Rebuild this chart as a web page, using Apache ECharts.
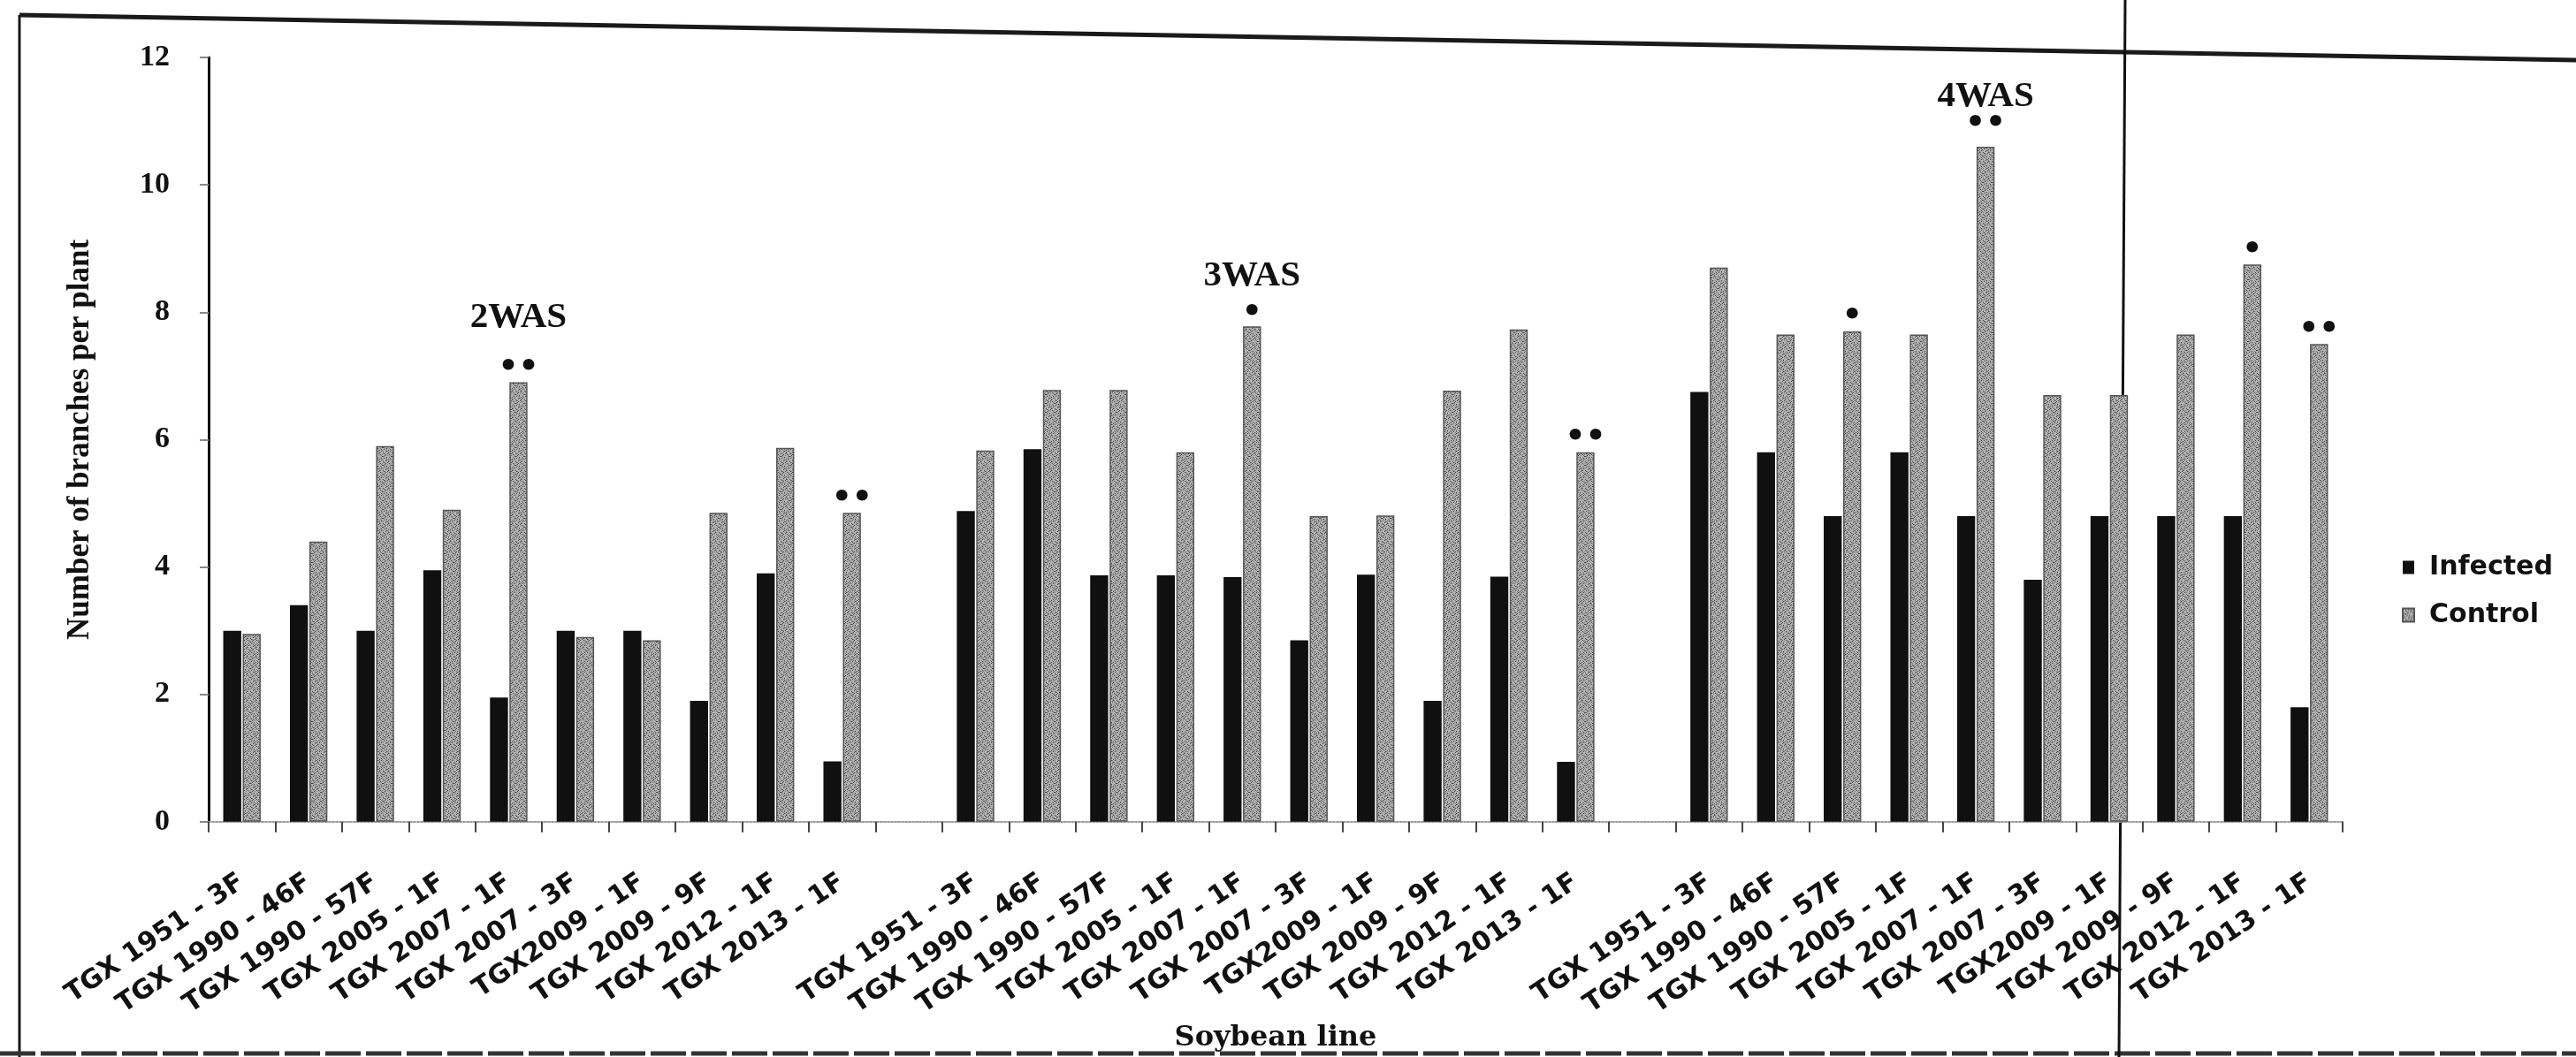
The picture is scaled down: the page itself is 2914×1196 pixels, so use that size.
<!DOCTYPE html>
<html>
<head>
<meta charset="utf-8">
<title>Number of branches per plant</title>
<script src="https://cdn.jsdelivr.net/npm/echarts/dist/echarts.min.js"></script>
<style>
  html, body { margin: 0; padding: 0; background: #ffffff; }
  #chart { width: 2914px; height: 1196px; }
</style>
</head>
<body>
<div id="chart"></div>
<script>
// Soybean lines, measured at three sampling weeks (weeks after sowing)
const lines = ['TGX 1951 - 3F', 'TGX 1990 - 46F', 'TGX 1990 - 57F', 'TGX 2005 - 1F', 'TGX 2007 - 1F',
               'TGX 2007 - 3F', 'TGX2009 - 1F', 'TGX 2009 - 9F', 'TGX 2012 - 1F', 'TGX 2013 - 1F'];
const weeks = ['2WAS', '3WAS', '4WAS'];

// Mean number of branches per plant
const infected2WAS = [3.0, 3.4, 3.0, 3.95, 1.95, 3.0, 3.0, 1.9, 3.9, 0.95];
const control2WAS  = [2.95, 4.4, 5.9, 4.9, 6.9, 2.9, 2.85, 4.85, 5.87, 4.85];
const infected3WAS = [4.88, 5.85, 3.87, 3.87, 3.84, 2.85, 3.88, 1.9, 3.85, 0.94];
const control3WAS  = [5.83, 6.78, 6.78, 5.8, 7.78, 4.8, 4.81, 6.77, 7.73, 5.8];
const infected4WAS = [6.75, 5.8, 4.8, 5.8, 4.8, 3.8, 4.8, 4.8, 4.8, 1.8];
const control4WAS  = [8.7, 7.65, 7.7, 7.65, 10.6, 6.7, 6.7, 7.65, 8.75, 7.5];

// Significance marks above the control bars (* p<0.05, ** p<0.01)
const signif2WAS = ['', '', '', '', '**', '', '', '', '', '**'];
const signif3WAS = ['', '', '', '', '*', '', '', '', '', '**'];
const signif4WAS = ['', '', '*', '', '**', '', '', '', '*', '**'];

// The week heading is written above this line's control bar
const headingLine = 'TGX 2007 - 1F';

const yTickStep = 2;
const yMax = 12;

const infectedByWeek = [infected2WAS, infected3WAS, infected4WAS];
const controlByWeek = [control2WAS, control3WAS, control4WAS];
const signifByWeek = [signif2WAS, signif3WAS, signif4WAS];

// per-week spacing of the heading above its bar
const headingStyle = [
  { distance: 6, lineHeight: 94 },
  { distance: 5, lineHeight: 64 },
  { distance: 15, lineHeight: 42 }
];

const INK = '#111111';

// speckled grey fill for the control bars
function speckle() {
  const c = document.createElement('canvas');
  c.width = 10; c.height = 10;
  const g = c.getContext('2d');
  g.fillStyle = '#b4b4b4';
  g.fillRect(0, 0, 10, 10);
  g.fillStyle = '#3e3e3e';
  [[1,0],[6,1],[3,2],[8,3],[0,4],[5,5],[2,6],[7,7],[4,8],[9,9],[1,8],[6,4],[9,2],[3,6],[7,0],[4,3]]
    .forEach(p => g.fillRect(p[0], p[1], 1, 1));
  g.fillStyle = '#7a7a7a';
  [[3,0],[9,1],[0,2],[5,3],[2,4],[8,5],[4,6],[0,7],[7,8],[2,9],[6,9],[8,0],[5,7],[1,5]]
    .forEach(p => g.fillRect(p[0], p[1], 1, 1));
  return c;
}
const controlFill = { image: speckle(), repeat: 'repeat' };

function marksText(m) {
  return m.split('').map(() => '\u2022').join('');
}

const markFont = { fontFamily: 'DejaVu Sans', fontWeight: 'bold', fontSize: 36, lineHeight: 20, color: INK };

const categories = [];
const infectedData = [];
const controlData = [];

weeks.forEach((week, wi) => {
  if (wi > 0) {
    categories.push('');
    infectedData.push('-');
    controlData.push('-');
  }
  lines.forEach((line, i) => {
    categories.push(line);
    infectedData.push(infectedByWeek[wi][i]);
    const mark = signifByWeek[wi][i];
    const item = { value: controlByWeek[wi][i] };
    if (line === headingLine) {
      item.label = {
        show: true,
        position: 'top',
        distance: headingStyle[wi].distance,
        formatter: '{w|' + week + '}\n{s|' + (mark ? marksText(mark) : ' ') + '}',
        rich: {
          w: { fontFamily: 'Liberation Serif', fontWeight: 'bold', fontSize: 41,
               lineHeight: headingStyle[wi].lineHeight, color: INK },
          s: markFont
        }
      };
    } else if (mark) {
      item.label = Object.assign({
        show: true,
        position: 'top',
        distance: 6,
        formatter: marksText(mark)
      }, markFont);
    }
    controlData.push(item);
  });
});

const chart = echarts.init(document.getElementById('chart'), null, { renderer: 'canvas' });

chart.setOption({
  backgroundColor: '#ffffff',
  animation: false,
  grid: { left: 236, right: 264, top: 65, bottom: 263, containLabel: false },
  legend: {
    data: ['Infected', 'Control'],
    orient: 'vertical',
    left: 2712,
    top: 622,
    itemWidth: 13,
    itemHeight: 15,
    itemGap: 24,
    icon: 'rect',
    textStyle: { fontFamily: 'DejaVu Sans', fontWeight: 'bold', fontSize: 30, color: INK,
                 padding: [0, 0, 0, 12] }
  },
  xAxis: {
    type: 'category',
    data: categories,
    name: 'Soybean line',
    nameLocation: 'middle',
    nameGap: 215,
    nameTextStyle: { fontFamily: 'DejaVu Serif', fontWeight: 'bold', fontSize: 32, color: INK },
    axisLine: { show: true, lineStyle: { color: '#9a9a9a', width: 2, type: 'dotted' } },
    axisTick: { show: true, length: 12, lineStyle: { color: '#444', width: 2 } },
    axisLabel: {
      interval: 0,
      rotate: 34,
      margin: 66,
      fontFamily: 'DejaVu Sans',
      fontWeight: 'bold',
      fontSize: 30,
      color: INK
    },
    splitLine: { show: false }
  },
  yAxis: {
    type: 'value',
    min: 0,
    max: yMax,
    interval: yTickStep,
    name: 'Number of branches per plant',
    nameLocation: 'middle',
    nameGap: 128,
    nameRotate: 90,
    nameTextStyle: { fontFamily: 'Liberation Serif', fontWeight: 'bold', fontSize: 35, color: INK },
    axisLine: { show: true, lineStyle: { color: '#111', width: 3 } },
    axisTick: { show: true, length: 10, lineStyle: { color: '#888', width: 2 } },
    axisLabel: { margin: 44, fontFamily: 'Liberation Serif', fontWeight: 'bold', fontSize: 34, color: INK },
    splitLine: { show: false }
  },
  series: [
    {
      name: 'Infected',
      type: 'bar',
      data: infectedData,
      barWidth: '27%',
      barGap: '8%',
      itemStyle: { color: '#101010' }
    },
    {
      name: 'Control',
      type: 'bar',
      data: controlData,
      barWidth: '27%',
      barGap: '8%',
      itemStyle: { color: controlFill, borderColor: '#555555', borderWidth: 1.5 }
    }
  ],
  graphic: [
    // page frame and fold line
    { type: 'line', silent: true, shape: { x1: 22, y1: 17, x2: 2914, y2: 68 },
      style: { stroke: '#1a1a1a', lineWidth: 5 } },
    { type: 'line', silent: true, shape: { x1: 22, y1: 17, x2: 22, y2: 1196 },
      style: { stroke: '#1a1a1a', lineWidth: 3 } },
    { type: 'line', silent: true, shape: { x1: 0, y1: 1192, x2: 2914, y2: 1192 },
      style: { stroke: '#333', lineWidth: 5, lineDash: [40, 6] } },
    { type: 'line', silent: true, shape: { x1: 2404, y1: 0, x2: 2397, y2: 1196 },
      style: { stroke: '#111', lineWidth: 3 } }
  ]
});
</script>
</body>
</html>
